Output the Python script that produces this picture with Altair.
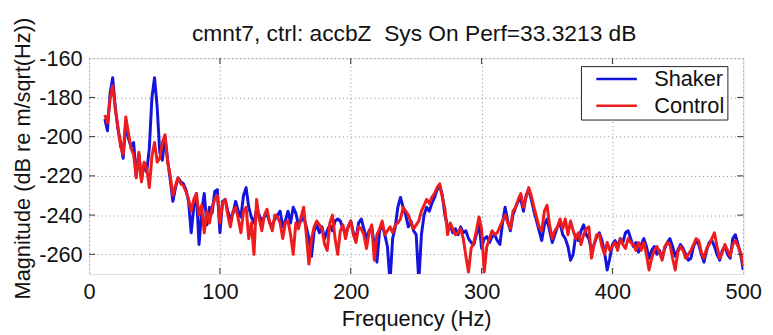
import altair as alt
import pandas as pd

# ---------------- data ----------------
freq = list(range(12, 501, 2))

shaker = [
    -191, -197, -178, -170, -185, -196, -203, -211, -193, -201,
    -205, -203, -220, -209, -222, -214, -218, -206, -180, -170,
    -185, -208, -212, -200, -212, -222, -233, -226, -221, -223,
    -224, -227, -233, -249, -236, -229, -255, -238, -229, -245,
    -236, -239, -228, -227, -249, -233, -232, -238, -242, -239,
    -233, -238, -241, -230, -226, -236, -241, -244, -237, -240,
    -243, -241, -239, -244, -245, -242, -240, -238, -246, -243,
    -238, -244, -236, -239, -245, -243, -241, -246, -252, -261,
    -248, -245, -249, -246, -252, -248, -245, -248, -243, -242,
    -243, -247, -249, -246, -243, -249, -252, -244, -242, -247,
    -252, -248, -246, -255, -264, -248, -245, -250, -256, -274,
    -252, -246, -236, -231, -236, -240, -246, -243, -248, -250,
    -274, -250, -240, -236, -238, -234, -231, -227, -225, -230,
    -240, -246, -245, -249, -247, -250, -246, -249, -248, -252,
    -254, -255, -250, -244, -257, -252, -251, -254, -251, -250,
    -253, -255, -244, -236, -243, -248, -240, -236, -233, -232,
    -238, -230, -227, -232, -238, -243, -248, -253, -245, -242,
    -248, -254, -250, -246, -244, -250, -252, -256, -263, -260,
    -250, -253, -248, -245, -250, -252, -258, -255, -251, -249,
    -253, -259, -268, -262, -255, -253, -256, -252, -254, -249,
    -248, -252, -256, -254, -259, -255, -252, -256, -262, -258,
    -256, -260, -258, -262, -257, -254, -252, -256, -261, -258,
    -255, -257, -260, -263, -262, -256, -253, -255, -260, -264,
    -258, -254, -253, -256, -260, -263, -258, -256, -260, -262,
    -252, -250, -255, -260, -268,
]

control = [
    -189, -193, -181, -174, -186, -195, -205, -209, -190, -198,
    -206, -209, -221, -208, -223, -213, -216, -226, -210, -203,
    -213, -211, -203, -199, -213, -220, -230, -225, -221, -224,
    -225, -228, -232, -238, -232, -229, -240, -235, -249, -238,
    -244, -236, -232, -230, -244, -234, -232, -240, -246, -238,
    -236, -242, -249, -238, -236, -252, -244, -260, -232, -242,
    -248, -240, -237, -244, -248, -240, -241, -244, -252, -244,
    -243, -250, -260, -244, -247, -241, -236, -250, -265, -252,
    -246, -243, -245, -247, -255, -258, -244, -240, -252, -260,
    -248, -245, -252, -246, -243, -250, -254, -246, -247, -250,
    -257, -249, -245, -263, -250, -247, -243, -250, -248, -246,
    -249, -245, -244, -242, -236, -238, -240, -244, -247, -245,
    -243, -238, -235, -232, -234, -231, -229, -226, -224, -231,
    -237, -250, -244, -247, -250, -249, -247, -252, -261, -269,
    -257, -254, -248, -241, -247, -269, -256, -252, -248, -250,
    -249, -246, -243, -240, -244, -247, -238, -236, -232, -229,
    -236, -231, -226, -230, -236, -241, -246, -248, -238, -235,
    -245, -252, -248, -246, -242, -247, -242, -250, -243, -248,
    -252, -249, -255, -250, -247, -246, -262, -255, -250, -250,
    -256, -260, -254, -258, -256, -254, -258, -252, -255, -257,
    -252, -254, -255, -258, -254, -258, -254, -260, -268, -262,
    -258, -256, -259, -263, -256, -254, -255, -262, -268, -259,
    -256, -258, -262, -260, -258, -255, -252, -253, -259, -262,
    -257, -255, -252, -249, -256, -262, -259, -255, -258, -261,
    -255, -253, -256, -259, -266,
]

series_names = ["Shaker", "Control"]
series_colors = ["#1414dc", "#ee1c1c"]
x_ticks = [0, 100, 200, 300, 400, 500]
y_ticks = [-260, -240, -220, -200, -180, -160]
x_domain = [0, 500]
y_domain = [-270, -160]
title_text = "cmnt7, ctrl: accbZ \u00a0Sys On Perf=33.3213 dB"
x_title = "Frequency (Hz)"
y_title = "Magnitude (dB re m/sqrt(Hz))"

# ---------------- chart ----------------
FONT = "Liberation Sans"
FS = 22
W, H = 661, 218

df = pd.DataFrame({
    "freq": freq + freq,
    "value": shaker + control,
    "series": [series_names[0]] * len(freq) + [series_names[1]] * len(freq),
})

xscale = alt.Scale(domain=x_domain, nice=False, zero=False)
yscale = alt.Scale(domain=y_domain, nice=False, zero=False)

x_axis = alt.Axis(values=x_ticks, title=x_title, grid=True, gridDash=[1, 3],
                  gridColor="#8a8a8a", gridOpacity=1, ticks=False, domain=False,
                  labelFont=FONT, labelFontSize=FS, labelColor="#111",
                  labelPadding=8, titleFont=FONT, titleFontSize=FS,
                  titleFontWeight="normal", titleColor="#111",
                  titleX=W / 2, titleY=52, titleBaseline="alphabetic",
                  titleAlign="center", labelFlush=False)
y_axis = alt.Axis(values=y_ticks, title=y_title, grid=True, gridDash=[1, 3],
                  gridColor="#8a8a8a", gridOpacity=1, ticks=False, domain=False,
                  labelFont=FONT, labelFontSize=FS, labelColor="#111",
                  labelPadding=7, labelExpr="'' + datum.value",
                  titleFont=FONT, titleFontSize=FS, titleFontWeight="normal",
                  titleColor="#111", titleX=-60, titleY=H / 2 - 8,
                  titleAngle=270, titleBaseline="alphabetic", titleAlign="center",
                  labelFlush=False)

lines = alt.Chart(df).mark_line(strokeWidth=3, clip=True, strokeJoin="round").encode(
    x=alt.X("freq:Q", scale=xscale, axis=x_axis),
    y=alt.Y("value:Q", scale=yscale, axis=y_axis),
    color=alt.Color("series:N",
                    scale=alt.Scale(domain=series_names, range=series_colors),
                    sort=series_names,
                    legend=alt.Legend(orient="none", legendX=497, legendY=8, title=None,
                                      fillColor="white", strokeColor="#222",
                                      padding=3, symbolOffset=11,
                                      labelFont=FONT, labelFontSize=FS,
                                      labelColor="#111", symbolType="stroke",
                                      symbolSize=1681, symbolStrokeWidth=2.5,
                                      clipHeight=20, rowPadding=5,
                                      labelOffset=16,
                                      labelExpr="datum.label + '\u00a0\u00a0\u00a0'")),
)

xt = pd.DataFrame({"t": x_ticks[1:-1]})
yt = pd.DataFrame({"t": y_ticks[:-1]})

tick_color = "#333"
xb = alt.Chart(xt).mark_rule(color=tick_color).encode(
    x=alt.X("t:Q", scale=xscale, title=x_title), y=alt.value(H), y2=alt.value(H - 6))
xtop = alt.Chart(xt).mark_rule(color=tick_color).encode(
    x=alt.X("t:Q", scale=xscale, title=x_title), y=alt.value(0), y2=alt.value(6))
yl = alt.Chart(yt).mark_rule(color=tick_color).encode(
    y=alt.Y("t:Q", scale=yscale, title=y_title), x=alt.value(0), x2=alt.value(6))
yr = alt.Chart(yt).mark_rule(color=tick_color).encode(
    y=alt.Y("t:Q", scale=yscale, title=y_title), x=alt.value(W - 6), x2=alt.value(W))

title_mark = alt.Chart(pd.DataFrame({"label": [title_text]})).mark_text(
    font=FONT, fontSize=23, color="#111", align="center", baseline="alphabetic"
).encode(x=alt.value(W / 2 - 2), y=alt.value(-17), text="label:N")

chart = alt.layer(lines, xb, xtop, yl, yr, title_mark).properties(
    width=W, height=H,
    autosize=alt.AutoSizeParams(type="none"),
    padding={"left": 82, "top": 49, "right": 22, "bottom": 60},
).configure_view(stroke="#333", strokeWidth=1).configure(background="white")

chart.save("out.html", embed_options={"renderer": "svg", "actions": False})
